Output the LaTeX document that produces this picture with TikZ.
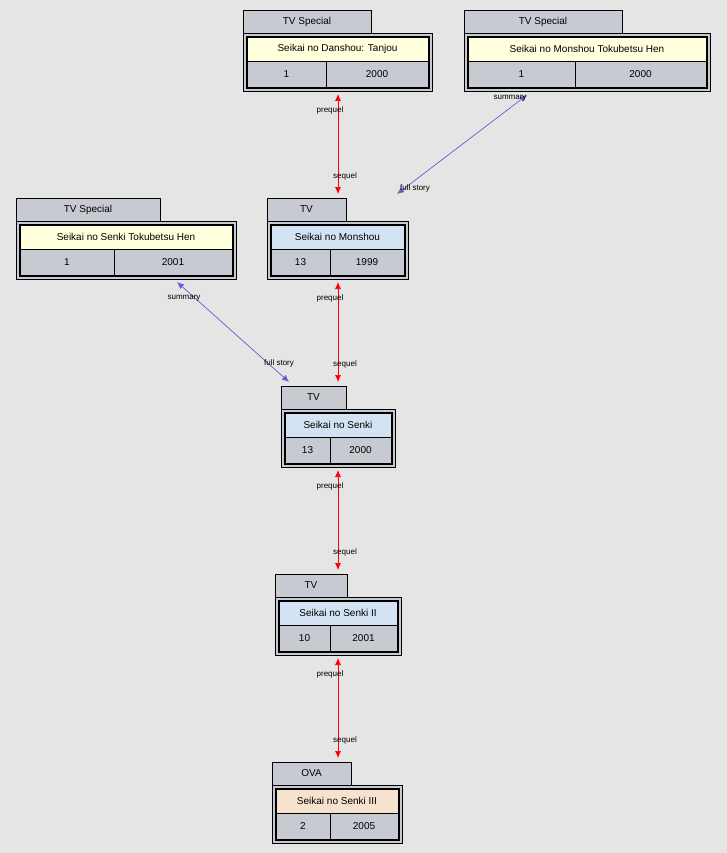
\documentclass[tikz,border=0pt]{standalone}
\usepackage{fontspec}
\setmainfont{Liberation Sans}
\usetikzlibrary{arrows.meta,calc}
\definecolor{bg}{HTML}{E5E5E5}
\definecolor{tabg}{HTML}{C8CAD2}
\definecolor{cyel}{HTML}{FFFFDD}
\definecolor{cblue}{HTML}{D3E3F3}
\definecolor{cpeach}{HTML}{F6E3CE}
\definecolor{eblue}{HTML}{6A5ACD}
\tikzset{
 box/.style={draw=black,line width=0.8pt},
 txt/.style={font=\fontsize{10}{12}\selectfont,inner sep=0pt},
 lbl/.style={font=\fontsize{8}{9}\selectfont,inner sep=0pt,text=black},
 rel/.style={red,line width=0.7pt,{Latex[length=7pt,width=6pt]}-{Latex[length=7pt,width=6pt]}},
 sum/.style={eblue,line width=0.7pt,{Latex[length=7pt,width=6pt]}-{Latex[length=7pt,width=6pt]}},
}
% #1 name #2 x1 #3 x2 #4 tab right #5 top #6 split #7 type #8 title #9 fill ; \eps \yr
\newcommand\anime[9]{%
 \draw[box,fill=tabg] (#2,#5) rectangle (#4,{#5+23});
 \node[txt] (#1-tab) at ({(#2+#4)/2},{#5+11.5}) {#7};
 \draw[box,fill=tabg] (#2,{#5+23}) rectangle (#3,{#5+81});
 \draw[box] ({#2+3},{#5+26}) rectangle ({#3-3},{#5+78});
 \draw[box,fill=#9] ({#2+4},{#5+27}) rectangle ({#3-4},{#5+51});
 \node[txt] (#1-title) at ({(#2+#3)/2},{#5+39}) {#8};
 \draw[box] ({#2+4},{#5+51}) rectangle (#6,{#5+77});
 \draw[box] (#6,{#5+51}) rectangle ({#3-4},{#5+77});
 \node[txt] (#1-eps) at ({(#2+4+#6)/2},{#5+64}) {\eps};
 \node[txt] (#1-yr) at ({(#6+#3-4)/2},{#5+64}) {\yr};
}
\begin{document}
\begin{tikzpicture}[x=1pt,y=-1pt]
\fill[bg] (0,0) rectangle (727,853);
\useasboundingbox (0,0) rectangle (727,853);
\def\eps{1}\def\yr{2000}
\anime{dan}{243}{432}{371}{10}{326}{TV Special}{Seikai no Danshou: Tanjou}{cyel}
\anime{mtok}{464}{710}{622}{10}{575}{TV Special}{Seikai no Monshou Tokubetsu Hen}{cyel}
\def\yr{2001}
\anime{stok}{16}{236}{160}{198}{114}{TV Special}{Seikai no Senki Tokubetsu Hen}{cyel}
\def\eps{13}\def\yr{1999}
\anime{mon}{267}{408}{346}{198}{330}{TV}{Seikai no Monshou}{cblue}
\def\yr{2000}
\anime{sen}{281}{395}{346}{386}{330}{TV}{Seikai no Senki}{cblue}
\def\eps{10}\def\yr{2001}
\anime{sen2}{275}{401}{347}{574}{330}{TV}{Seikai no Senki II}{cblue}
\def\eps{2}\def\yr{2005}
\anime{sen3}{272}{402}{351}{762}{330}{OVA}{Seikai no Senki III}{cpeach}
% edge endpoints
\coordinate (a1) at (338,94); \coordinate (a2) at (338,194);
\coordinate (b1) at (338,282); \coordinate (b2) at (338,382);
\coordinate (c1) at (338,470); \coordinate (c2) at (338,570);
\coordinate (d1) at (338,658); \coordinate (d2) at (338,758);
\coordinate (e1) at (527,95); \coordinate (e2) at (397,194);
\coordinate (f1) at (177,282); \coordinate (f2) at (289,382);
\foreach \p/\q in {a1/a2,b1/b2,c1/c2,d1/d2} {
 \draw[rel] (\p) -- (\q);
 \node[lbl] at ($(\p)+(-8,16)$) {prequel};
 \node[lbl] at ($(\q)+(7,-18)$) {sequel};
}
\draw[sum] (e1) -- (e2);
\node[lbl] (e1l) at (510,98) {summary};
\node[lbl] (e2l) at (415,188) {full story};
\draw[sum] (f1) -- (f2);
\node[lbl] (f1l) at (184,298) {summary};
\node[lbl] (f2l) at (279,363) {full story};
\end{tikzpicture}
\end{document}
